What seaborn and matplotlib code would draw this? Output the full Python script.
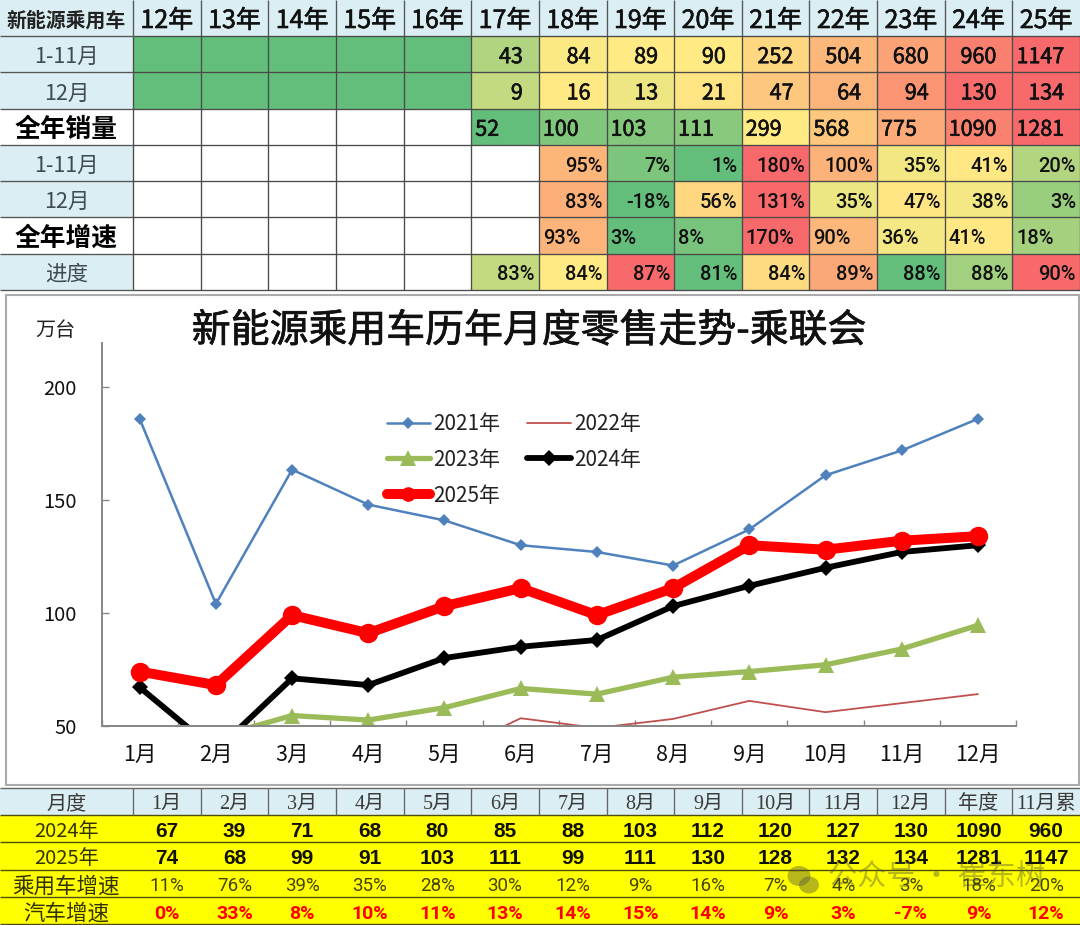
import numpy as np
import pandas as pd
import matplotlib
matplotlib.use("Agg")
import matplotlib.pyplot as plt
import matplotlib.patheffects as pe
from matplotlib.colors import LinearSegmentedColormap
from matplotlib.patches import Rectangle, Ellipse
import seaborn as sns

# ---------- data ----------
years = ["12年","13年","14年","15年","16年","17年","18年","19年","20年","21年","22年","23年","24年","25年"]
top_labels = ["1-11月","12月","全年销量","1-11月","12月","全年增速","进度"]
ytd_sales = [0,0,0,0,0,43,84,89,90,252,504,680,960,1147]
dec_sales = [0,0,0,0,0,9,16,13,21,47,64,94,130,134]
full_sales = [None,None,None,None,None,52,100,103,111,299,568,775,1090,1281]
ytd_growth = [None,None,None,None,None,None,95,7,1,180,100,35,41,20]
dec_growth = [None,None,None,None,None,None,83,-18,56,131,35,47,38,3]
full_growth = [None,None,None,None,None,None,93,3,8,170,90,36,41,18]
progress = [None,None,None,None,None,83,84,87,81,84,89,88,88,90]
progress_shade = [None,None,None,None,None,0.31,0.5,1.0,0.0,0.56,0.76,0.0,0.2,1.0]

months = ["1月","2月","3月","4月","5月","6月","7月","8月","9月","10月","11月","12月"]
s2021 = [186,104,163.5,148,141,130,127,121,137,161,172,186]
s2022 = [None,None,None,None,37,53.3,49,53,61,56,60,64]
s2023 = [None,45,54.5,52.5,58,66.5,64,71.5,74,77,84,94.5]
s2024 = [67,39,71,68,80,85,88,103,112,120,127,130]
s2025 = [74,68,99,91,103,111,99,111,130,128,132,134]

bottom_header = ["月度","1月","2月","3月","4月","5月","6月","7月","8月","9月","10月","11月","12月","年度","11月累"]
row_2024 = [67,39,71,68,80,85,88,103,112,120,127,130,1090,960]
row_2025 = [74,68,99,91,103,111,99,111,130,128,132,134,1281,1147]
pv_growth = [11,76,39,35,28,30,12,9,16,7,4,3,18,20]
auto_growth = [0,33,8,10,11,13,14,15,14,9,3,-7,9,12]

# ---------- setup ----------
sns.set_theme(style="white")
CJK = ["Noto Sans CJK SC", "DejaVu Sans"]
plt.rcParams["font.family"] = CJK
W, H = 1080, 925
DY = 3.0  # text baseline nudge, in pixels
fig = plt.figure(figsize=(W/100, H/100), dpi=100, facecolor="white")
heavy = [pe.withStroke(linewidth=0.45, foreground="#111111")]

def px_axes(x0, y0, x1, y1, **kw):
    return fig.add_axes([x0/W, 1-y1/H, (x1-x0)/W, (y1-y0)/H], **kw)

bg = px_axes(0, 0, W, H)
bg.set_xlim(0, W); bg.set_ylim(H, 0); bg.axis("off")

LABEL_X = 133.0
COL_W = (W-LABEL_X)/14
HEAD = "#DAEEF3"
GRID = "#4a4a4a"
col_edges = [0, *[LABEL_X+i*COL_W for i in range(15)]]

# ---------- top table ----------
T0, TH, RH = 0.0, 36.0, 36.29
bg.add_patch(Rectangle((0, T0), W, TH, fc=HEAD, ec="none"))
for i, r in enumerate(top_labels):
    y = TH+i*RH
    if r not in ("全年销量", "全年增速"):
        bg.add_patch(Rectangle((0, y), LABEL_X, RH, fc=HEAD, ec="none"))
    bold = r in ("全年销量", "全年增速")
    bg.text(LABEL_X/2, y+RH/2+DY, r, ha="center", va="center",
            fontsize=18.5 if bold else 15.5, fontweight="bold" if bold else "normal",
            color="black" if bold else "#3f4a52")
bg.text(LABEL_X/2, TH/2+DY-1, "新能源乘用车", ha="center", va="center", fontsize=14.3, fontweight="bold", color="#222222")
for j, yr in enumerate(years):
    bg.text(LABEL_X+(j+.5)*COL_W, TH/2+DY, yr, ha="center", va="center", fontsize=18, color="#111111", path_effects=heavy)

def excel_scale(vals):
    arr = np.array([np.nan if v is None else v for v in vals], dtype=float)
    lo, med, hi = np.nanmin(arr), np.nanmedian(arr), np.nanmax(arr)
    return np.where(arr <= med, .5*(arr-lo)/(med-lo), .5+.5*(arr-med)/(hi-med))

shade = np.vstack([excel_scale(ytd_sales), excel_scale(dec_sales), excel_scale(full_sales),
                   excel_scale(ytd_growth), excel_scale(dec_growth), excel_scale(full_growth),
                   np.array([np.nan if v is None else v for v in progress_shade], dtype=float)])
cmap = LinearSegmentedColormap.from_list("excel", ["#63BE7B", "#FFEB84", "#F8696B"])
hm = px_axes(LABEL_X, TH, W, TH+7*RH)
hm.set_facecolor("white")
sns.heatmap(pd.DataFrame(shade, index=top_labels, columns=years), ax=hm, cmap=cmap, vmin=0, vmax=1,
            cbar=False, linewidths=0, xticklabels=False, yticklabels=False)
hm.set_xlabel(""); hm.set_ylabel("")
hm.hlines(range(0, 8), 0, 14, color=GRID, lw=0.95, clip_on=False)
hm.vlines(range(0, 15), 0, 7, color=GRID, lw=0.95, clip_on=False)
bg.vlines([LABEL_X+i*COL_W for i in range(0, 14)], 0, TH, color="#555555", lw=0.95)
bg.hlines([TH+i*RH for i in range(0, 8)], 0, LABEL_X, color="#555555", lw=0.95)

rows = [(ytd_sales,"int","right",16/COL_W),(dec_sales,"int","right",16/COL_W),(full_sales,"int","left",4/COL_W),
        (ytd_growth,"pct","right",4/COL_W),(dec_growth,"pct","right",4/COL_W),(full_growth,"pct","left",4/COL_W),
        (progress,"pct","right",4/COL_W)]
for i, (vals, kind, al, pad) in enumerate(rows):
    for j, v in enumerate(vals):
        if v is None or (kind == "int" and v == 0):
            continue
        x = j+1-pad if al == "right" else j+pad
        if kind == "int":
            hm.text(x, i+.5+DY/RH, str(v), ha=al, va="center", fontsize=15.5, color="#111111", path_effects=heavy)
        else:
            hm.text(x, i+.5+DY/RH, f"{v}%", ha=al, va="center", fontsize=14.5, color="#111111",
                    family="Roboto", fontweight="medium")

# ---------- chart frame ----------
bg.add_patch(Rectangle((5.5, 295), W-7, 489.5, fc="white", ec="#ABABAB", lw=1.5))
bg.text(55, 328+DY, "万台", ha="center", va="center", fontsize=14.5, color="#222222")
bg.text(529, 328+DY, "新能源乘用车历年月度零售走势-乘联会", ha="center", va="center", fontsize=28, color="#111111",
        path_effects=[pe.withStroke(linewidth=0.5, foreground="#111111")])

# ---------- line chart ----------
ax = px_axes(101.6, 343.3, 1016, 725.7)
ax.patch.set_alpha(0)
df = pd.DataFrame({"month": months, "2021年": s2021, "2022年": s2022, "2023年": s2023, "2024年": s2024, "2025年": s2025})
df[["2022年","2023年"]] = df[["2022年","2023年"]].astype(float)
styles = {
    "2021年": dict(color="#4F81BD", linewidth=1.8, marker="D", markersize=6.2, markeredgewidth=0),
    "2022年": dict(color="#C0504D", linewidth=1.3),
    "2023年": dict(color="#9BBB59", linewidth=3.8, marker="^", markersize=11, markeredgewidth=0),
    "2024年": dict(color="black", linewidth=4.2, marker="D", markersize=8, markeredgewidth=0),
    "2025年": dict(color="#FF0000", linewidth=7.2, marker="o", markersize=14, markeredgewidth=0),
}
for name, st in styles.items():
    sns.lineplot(data=df, x="month", y=name, ax=ax, estimator=None, errorbar=None, sort=False, label=name,
                 solid_capstyle="round", solid_joinstyle="round", **st)
ax.set_xlim(-.5, 11.5)
ax.set_ylim(50, 50+(725.7-343.3)/2.256)
ax.set_xlabel(""); ax.set_ylabel("")
for s in ("top", "right"):
    ax.spines[s].set_visible(False)
for s in ("left", "bottom"):
    ax.spines[s].set_color("#868686"); ax.spines[s].set_linewidth(1.4)
ax.set_yticks([50, 100, 150, 200])
ax.set_xticks(np.arange(-.5, 12, 1))
ax.set_xticklabels([])
ax.set_xticks(np.arange(12), months, minor=True)
ax.tick_params(axis="y", direction="in", length=5, width=1, color="#868686", pad=18, labelsize=14.5, labelcolor="#111111", left=True)
ax.tick_params(axis="x", which="major", direction="in", length=4.5, width=1, color="#868686", bottom=True)
ax.tick_params(axis="x", which="minor", length=0, pad=13, labelsize=15.5, labelcolor="#111111")

h, l = ax.get_legend_handles_labels()
order = [0, 2, 4, 1, 3]
leg = ax.legend([h[i] for i in order], [l[i] for i in order], ncol=2, frameon=False, fontsize=15,
                handlelength=2.1, handletextpad=0.15, columnspacing=1.3, labelspacing=0.66, borderpad=0, borderaxespad=0,
                loc="upper left", bbox_to_anchor=(386.5/W, 1-413/H), bbox_transform=fig.transFigure)
for t in leg.get_texts():
    t.set_color("#222222")
leg.legend_handles[2].set_markersize(10.5)

# ---------- bottom table ----------
B_TOP, B_HEAD, B_RH = 788.0, 815.0, 27.3
bg.add_patch(Rectangle((0, B_TOP), W, B_HEAD-B_TOP, fc=HEAD, ec="none"))
bg.add_patch(Rectangle((0, B_HEAD), W, 4*B_RH, fc="#FFFF00", ec="none"))
bg.hlines([B_TOP], 0, W, color="#666666", lw=1)
bg.hlines([B_HEAD+i*B_RH for i in range(0, 5)], 0, W, color="#4d4d10", lw=1)
bg.vlines(col_edges[1:-1], B_TOP, B_HEAD, color="#666666", lw=0.95)
centers = [(col_edges[i]+col_edges[i+1])/2 for i in range(15)]
for c, t in zip(centers, bottom_header):
    bg.text(c, (B_TOP+B_HEAD)/2+DY, t, ha="center", va="center", fontsize=14.5, color="#3a3a3a",
            family=["Liberation Serif", "Noto Sans CJK SC"])
side = ["2024年", "2025年", "乘用车增速", "汽车增速"]
for i, t in enumerate(side):
    bg.text(centers[0], B_HEAD+(i+.5)*B_RH+DY, t, ha="center", va="center", fontsize=14.5 if i < 2 else 15.5, color="#333300")
for j, c in enumerate(centers[1:]):
    bg.text(c, B_HEAD+.5*B_RH+DY, str(row_2024[j]), ha="center", va="center", fontsize=15, fontweight="bold", family="Liberation Sans", color="#111100")
    bg.text(c, B_HEAD+1.5*B_RH+DY, str(row_2025[j]), ha="center", va="center", fontsize=15, fontweight="bold", family="Liberation Sans", color="#111100")
    bg.text(c, B_HEAD+2.5*B_RH+DY, f"{pv_growth[j]}%", ha="center", va="center", fontsize=13.5, family="Roboto", color="#444400")
    bg.text(c, B_HEAD+3.5*B_RH+DY, f"{auto_growth[j]}%", ha="center", va="center", fontsize=14, family="Roboto", fontweight="bold", color="#FF0000")

# watermark
wm = "#555540"
bg.add_patch(Ellipse((799, 876), 23, 20, fc=wm, ec="none", alpha=0.42))
bg.add_patch(Ellipse((809, 885), 20, 17, fc=wm, ec="none", alpha=0.42))
bg.text(936, 877, "公众号 · 崔东树", ha="center", va="center", fontsize=21, color=wm, alpha=0.42)

fig.savefig("out.png", dpi=100)
